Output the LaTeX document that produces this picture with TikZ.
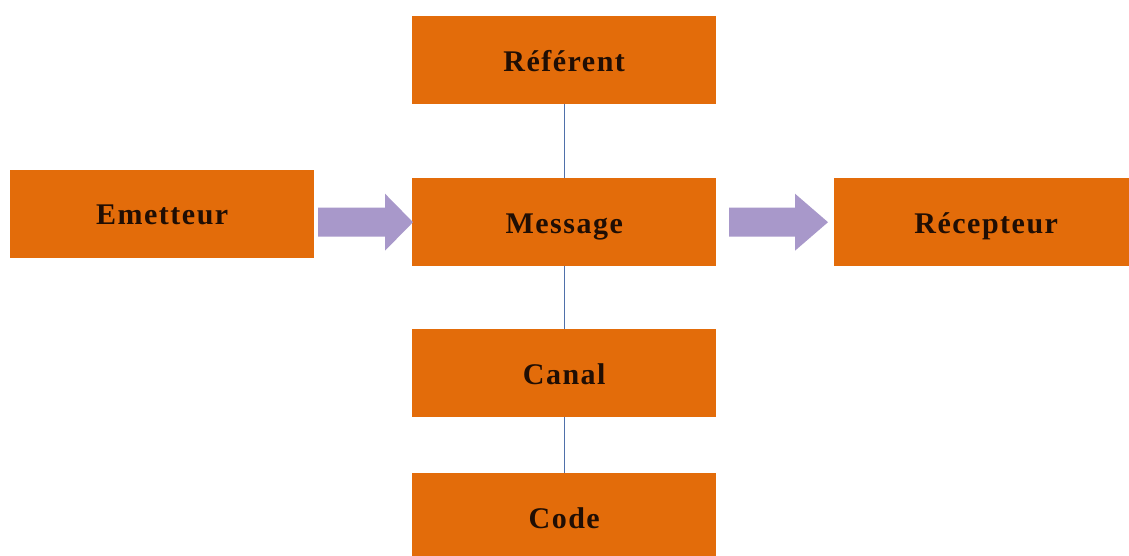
\documentclass[tikz,border=0pt]{standalone}
\usepackage{fontspec}
\setmainfont{Liberation Serif}
\newfontfamily\boxfont[LetterSpace=5]{Liberation Serif}
\usetikzlibrary{calc}
\definecolor{boxorange}{RGB}{227,108,10}
\definecolor{arrowlav}{RGB}{168,152,202}
\definecolor{linkblue}{RGB}{79,112,170}
\definecolor{txtdark}{RGB}{32,14,4}
\tikzset{
  box/.style={draw=none, fill=boxorange, minimum width=304pt, minimum height=88pt,
    inner sep=0pt, anchor=north west, text=txtdark, text height=23pt, text depth=0pt,
    font=\boxfont\fontsize{30}{33}\selectfont\bfseries},
  link/.style={draw=linkblue, line width=1.3pt},
  blockarrow/.style={fill=arrowlav, draw=none}
}
\begin{document}
\begin{tikzpicture}[x=1pt,y=-1pt]
\useasboundingbox (0,0) rectangle (1129,556);
\fill[white] (0,0) rectangle (1129,556);
\node[box] (ref) at (412,16) {Référent};
\node[box, text height=20pt] (em) at (10,170) {Emetteur};
\node[box] (msg) at (412,178) {Message};
\node[box] (rec) at (834,178) {Récepteur};
\node[box] (can) at (412,329) {Canal};
\node[box] (cod) at (412,473) {Code};
\draw[link] (ref.south) -- (msg.north);
\draw[link] (msg.south) -- (can.north);
\draw[link] (can.south) -- (cod.north);
\fill[blockarrow] ($(msg.west)+(-94,-14.5)$) -- ($(msg.west)+(-27,-14.5)$) -- ($(msg.west)+(-27,-28.5)$)
  -- ($(msg.west)+(1,0)$) -- ($(msg.west)+(-27,28.5)$) -- ($(msg.west)+(-27,14.5)$) -- ($(msg.west)+(-94,14.5)$) -- cycle;
\fill[blockarrow] ($(rec.west)+(-105,-14.5)$) -- ($(rec.west)+(-39,-14.5)$) -- ($(rec.west)+(-39,-28.5)$)
  -- ($(rec.west)+(-6,0)$) -- ($(rec.west)+(-39,28.5)$) -- ($(rec.west)+(-39,14.5)$) -- ($(rec.west)+(-105,14.5)$) -- cycle;
\end{tikzpicture}
\end{document}
